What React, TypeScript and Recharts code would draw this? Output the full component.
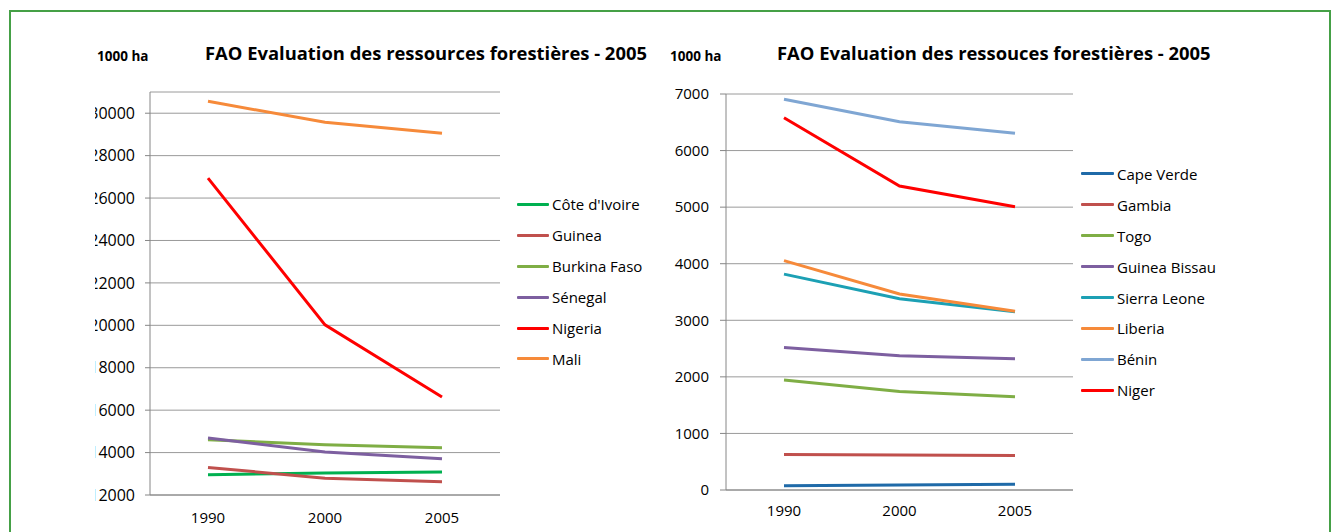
import { LineChart, Line, XAxis, YAxis, CartesianGrid } from "recharts";

const YEARS = ["1990", "2000", "2005"];

// left chart (1000 ha)
const coteDIvoire = [12950, 13040, 13090];
const guinea = [13300, 12790, 12620];
const burkinaFaso = [14610, 14370, 14230];
const senegal = [14690, 14030, 13710];
const nigeria = [26940, 20020, 16620];
const mali = [30560, 29570, 29060];
const LEFT_TICKS = [12000, 14000, 16000, 18000, 20000, 22000, 24000, 26000, 28000, 30000];

// right chart (1000 ha)
const capeVerde = [76, 90, 100];
const gambia = [629, 620, 611];
const togo = [1943, 1742, 1648];
const guineaBissau = [2519, 2373, 2320];
const sierraLeone = [3816, 3380, 3150];
const liberia = [4054, 3465, 3158];
const benin = [6906, 6510, 6305];
const niger = [6581, 5374, 5008];
const RIGHT_TICKS = [0, 1000, 2000, 3000, 4000, 5000, 6000, 7000];

const LEFT_SERIES = [
  { key: "civ", name: "Côte d'Ivoire", values: coteDIvoire, color: "#00B050" },
  { key: "gui", name: "Guinea", values: guinea, color: "#C0504D" },
  { key: "bfa", name: "Burkina Faso", values: burkinaFaso, color: "#7FAE45" },
  { key: "sen", name: "Sénegal", values: senegal, color: "#7D5FA0" },
  { key: "nga", name: "Nigeria", values: nigeria, color: "#FF0000" },
  { key: "mli", name: "Mali", values: mali, color: "#F68A3A" },
];

const RIGHT_SERIES = [
  { key: "cpv", name: "Cape Verde", values: capeVerde, color: "#1F6AA8" },
  { key: "gmb", name: "Gambia", values: gambia, color: "#C0504D" },
  { key: "tgo", name: "Togo", values: togo, color: "#7FAE45" },
  { key: "gnb", name: "Guinea Bissau", values: guineaBissau, color: "#7D5FA0" },
  { key: "sle", name: "Sierra Leone", values: sierraLeone, color: "#1CA0B4" },
  { key: "lbr", name: "Liberia", values: liberia, color: "#F68A3A" },
  { key: "ben", name: "Bénin", values: benin, color: "#7FA6D3" },
  { key: "ner", name: "Niger", values: niger, color: "#FF0000" },
];

const toRows = (series: typeof LEFT_SERIES) =>
  YEARS.map((year, i) => {
    const row: any = { year };
    series.forEach((s) => (row[s.key] = s.values[i]));
    return row;
  });

const FONT = "'Open Sans', sans-serif";
const AXIS = "#868686";
const GRID = "#9a9a9a";
const tickStyle = { fill: "#000", fontSize: 15, fontFamily: FONT };

function Legend({ series, left, top, lineW }: any) {
  return (
    <div style={{ position: "absolute", left, top }}>
      {series.map((s: any) => (
        <div key={s.key} style={{ display: "flex", alignItems: "center", height: 30.9 }}>
          <span style={{ width: lineW, height: 3, background: s.color, marginRight: 3, borderRadius: 1 }} />
          <span style={{ fontSize: 15, color: "#000", fontFamily: FONT }}>{s.name}</span>
        </div>
      ))}
    </div>
  );
}

export default function App() {
  const leftData = toRows(LEFT_SERIES);
  const rightData = toRows(RIGHT_SERIES);

  return (
    <div style={{ position: "absolute", left: 0, top: 0, width: 1333, height: 532, overflow: "hidden", background: "#fff", fontFamily: FONT }}>
      <div style={{ position: "absolute", left: 9, top: 10, width: 1318, height: 600, border: "2px solid #45A046" }} />

      {/* left chart */}
      <div style={{ position: "absolute", left: 97, top: 47, fontSize: 13.5, fontWeight: 700, lineHeight: "18px" }}>1000 ha</div>
      <div style={{ position: "absolute", left: 205, top: 40, fontSize: 18.4, fontWeight: 700, lineHeight: "26px", whiteSpace: "nowrap" }}>
        FAO Evaluation des ressources forestières - 2005
      </div>
      {/* the source image crops the first digit of the left axis labels */}
      <div style={{ position: "absolute", left: 95, top: 0, width: 430, height: 532, overflow: "hidden" }}>
        <div style={{ position: "absolute", left: -44, top: 0 }}>
          <LineChart width={460} height={532} data={leftData} margin={{ top: 92, right: 11, bottom: 7, left: 0 }}>
            <CartesianGrid vertical={false} stroke={GRID} />
            <XAxis dataKey="year" tick={tickStyle} tickLine={false} tickSize={0} tickMargin={17} height={30}
              axisLine={{ stroke: AXIS }} padding={{ left: 58, right: 58 }} />
            <XAxis xAxisId="top" dataKey="year" orientation="top" tick={false} tickLine={false} height={0}
              axisLine={{ stroke: AXIS }} />
            <YAxis domain={[12000, 31000]} ticks={LEFT_TICKS} interval={0} width={99} tick={{ ...tickStyle, fontSize: 16 }}
              tickSize={5} tickMargin={10} axisLine={{ stroke: AXIS }} tickLine={{ stroke: AXIS }} />
            <YAxis yAxisId="r" orientation="right" domain={[12000, 31000]} tick={false} tickLine={false} width={0}
              axisLine={{ stroke: AXIS }} />
            {LEFT_SERIES.map((s) => (
              <Line key={s.key} dataKey={s.key} name={s.name} stroke={s.color} strokeWidth={3} dot={false}
                type="linear" isAnimationActive={false} />
            ))}
          </LineChart>
        </div>
      </div>
      <Legend series={LEFT_SERIES} left={517} top={189} lineW={32} />

      {/* right chart */}
      <div style={{ position: "absolute", left: 670, top: 47, fontSize: 13.5, fontWeight: 700, lineHeight: "18px" }}>1000 ha</div>
      <div style={{ position: "absolute", left: 777, top: 40, fontSize: 18.4, fontWeight: 700, lineHeight: "26px", whiteSpace: "nowrap" }}>
        FAO Evaluation des ressouces forestières - 2005
      </div>
      <div style={{ position: "absolute", left: 620, top: 0 }}>
        <LineChart width={465} height={532} data={rightData} margin={{ top: 94, right: 12, bottom: 12, left: 0 }}>
          <CartesianGrid vertical={false} stroke={GRID} />
          <XAxis dataKey="year" tick={tickStyle} tickLine={false} tickSize={0} tickMargin={15} height={30}
            axisLine={{ stroke: AXIS }} padding={{ left: 58, right: 58 }} />
          <YAxis domain={[0, 7000]} ticks={RIGHT_TICKS} interval={0} width={106} tick={tickStyle}
            tickSize={6} tickMargin={11} axisLine={{ stroke: AXIS }} tickLine={{ stroke: AXIS }} />
          <YAxis yAxisId="r" orientation="right" domain={[0, 7000]} tick={false} tickLine={false} width={0}
            axisLine={{ stroke: AXIS }} />
          {RIGHT_SERIES.map((s) => (
            <Line key={s.key} dataKey={s.key} name={s.name} stroke={s.color} strokeWidth={3} dot={false}
              type="linear" isAnimationActive={false} />
          ))}
        </LineChart>
      </div>
      <Legend series={RIGHT_SERIES} left={1081} top={158.5} lineW={33} />
    </div>
  );
}
